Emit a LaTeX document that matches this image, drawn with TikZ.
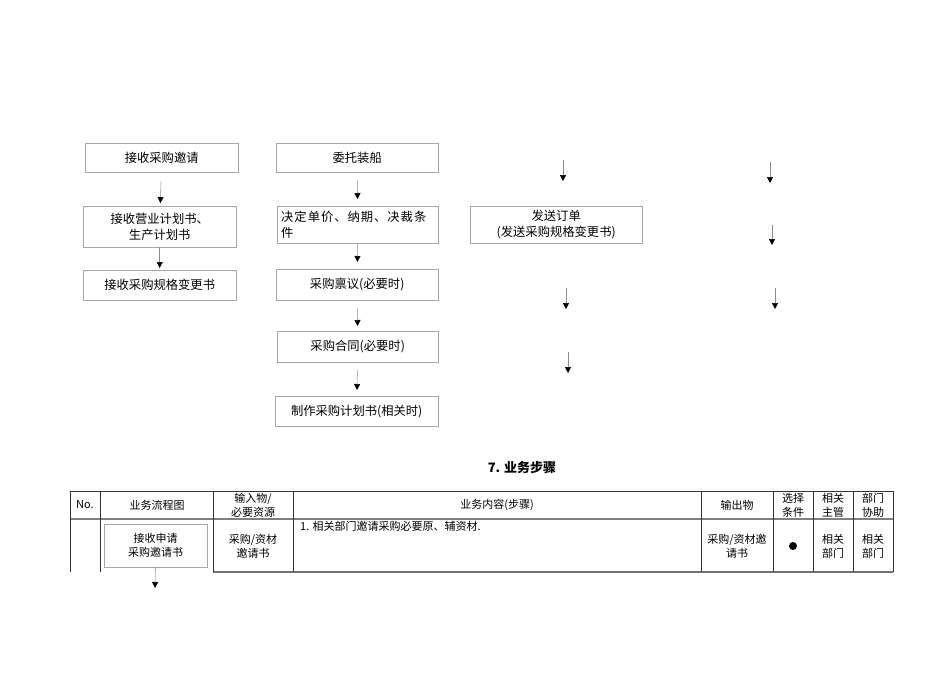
\documentclass[tikz,border=0pt]{standalone}
\usepackage{fontspec}
\setmainfont{Noto Sans CJK SC}
\usetikzlibrary{arrows.meta}

\tikzset{
  box/.style={draw=black!35, anchor=north west, inner sep=2pt, align=center,
    font=\fontsize{12.3}{16}\selectfont},
  arr/.style={draw=black!45, line width=0.5pt, -{Triangle[color=black,width=6pt,length=6pt]}},
  cell/.style={align=center, inner sep=0pt, font=\fontsize{11}{14}\selectfont},
  grid/.style={draw=black!80, line width=0.7pt},
}

\begin{document}
\begin{tikzpicture}[x=1pt,y=-1pt]
\useasboundingbox (0,0) rectangle (950,672);

\node[box, minimum width=153pt, minimum height=29pt] (invite) at (85,143) {接收采购邀请};
\node[box, minimum width=153pt, minimum height=41pt] (plan) at (83,206) {接收营业计划书、\\生产计划书};
\node[box, minimum width=153pt, minimum height=30pt] (spec) at (83,270) {接收采购规格变更书};

\node[box, minimum width=162pt, minimum height=29pt] (ship) at (276,143) {委托装船};
\node[box, minimum width=161pt, minimum height=37pt, align=left, text width=153pt] (price) at (277,206) {\addfontfeature{LetterSpace=8}决定单价、纳期、决裁条\\件};
\node[box, minimum width=162pt, minimum height=31pt] (ringi) at (276,269) {采购禀议(必要时)};
\node[box, minimum width=161pt, minimum height=31pt] (contract) at (277,331) {采购合同(必要时)};
\node[box, minimum width=163pt, minimum height=30pt] (pplan) at (275,396) {制作采购计划书(相关时)};

\node[box, minimum width=172pt, minimum height=37pt] (order) at (470,206) {发送订单\\(发送采购规格变更书)};

\draw[arr, shorten <=9pt, shorten >=3pt] (invite) -- (plan);
\draw[arr, shorten >=2pt] (plan) -- (spec);
\draw[arr, shorten <=8pt, shorten >=7pt] (ship) -- (price);
\draw[arr, shorten >=7pt] (price) -- (ringi);
\draw[arr, shorten <=8pt, shorten >=5pt] (ringi) -- (contract);
\draw[arr, shorten <=8pt, shorten >=6pt] (contract) -- (pplan);

\coordinate (a1) at (563,160); \coordinate (b1) at (563,181);
\coordinate (a2) at (566,288); \coordinate (b2) at (566,309);
\coordinate (a3) at (568,352); \coordinate (b3) at (568,373);
\coordinate (a4) at (770,162); \coordinate (b4) at (770,183);
\coordinate (a5) at (772,225); \coordinate (b5) at (772,245);
\coordinate (a6) at (775,288); \coordinate (b6) at (775,309);
\foreach \i in {1,...,6}
  \draw[arr] (a\i) -- (b\i);

\node[font=\bfseries\fontsize{13}{15}\selectfont] (title) at (522,468) {7. 业务步骤};

\draw[grid] (70,491) -- (893,491);
\draw[draw=black!50, line width=1.4pt] (70,519) -- (893,519);
\draw[draw=black!55, line width=1.2pt] (213,572) -- (893,572);
\foreach \x in {70,100,213,293,701,773,813,853,893}
  \draw[grid] (\x,491) -- (\x,572);

\node[cell] (hno) at (85,505) {No.};
\node[cell] (hflow) at (157,505) {业务流程图};
\node[cell] (hin) at (253,505) {输入物/\\必要资源};
\node[cell] (hbody) at (497,505) {业务内容(步骤)};
\node[cell] (hout) at (737,505) {输出物};
\node[cell] (hsel) at (793,505) {选择\\条件};
\node[cell] (hmgr) at (833,505) {相关\\主管};
\node[cell] (hhelp) at (873,505) {部门\\协助};

\node[box, cell, draw=black!35, minimum width=103pt, minimum height=43pt] (req) at (104,524) {接收申请\\采购邀请书};
\node[cell] (rin) at (253,546) {采购/资材\\邀请书};
\node[cell, anchor=north west] (rbody) at (300,521) {1. 相关部门邀请采购必要原、辅资材.};
\node[cell] (rout) at (737,546) {采购/资材邀\\请书};
\fill (793,546) circle (4pt);
\node[cell] (rmgr) at (833,546) {相关\\部门};
\node[cell] (rhelp) at (873,546) {相关\\部门};

\coordinate (req0) at (155,588);
\draw[arr] (req) -- (req0);
\end{tikzpicture}
\end{document}
